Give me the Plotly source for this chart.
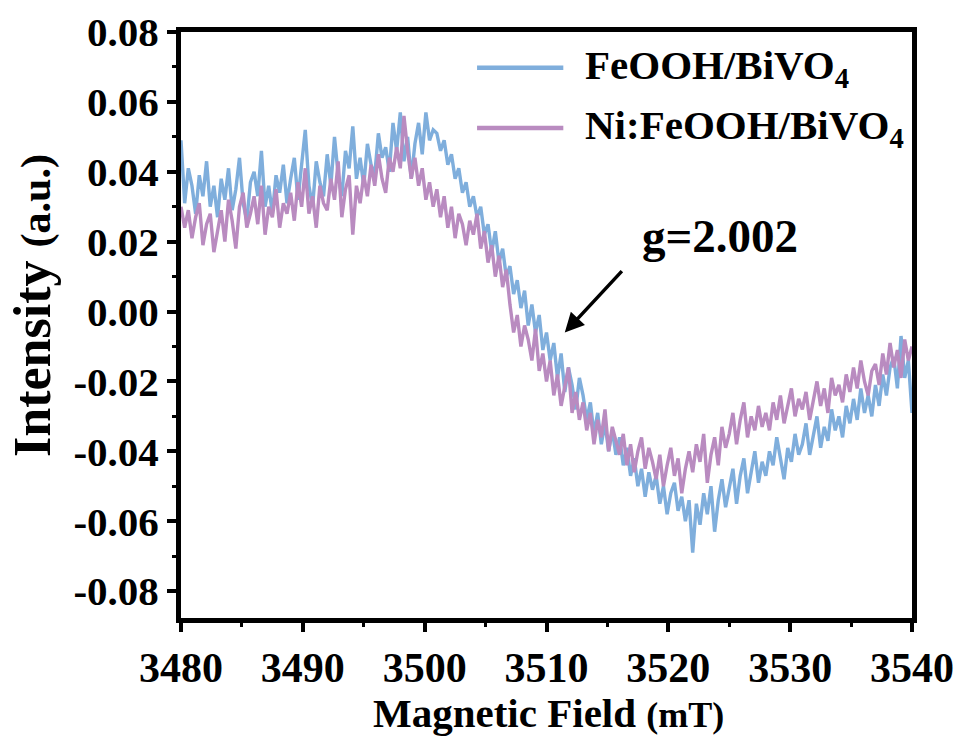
import numpy as np
import plotly.graph_objects as go

# Magnetic field sweep, 3480-3540 mT in 0.3 mT steps (201 samples)
field = np.round(3480 + 0.3 * np.arange(201), 1)

# EPR intensity of FeOOH/BiVO4 (a.u.)
feooh = [
    0.049, 0.031, 0.041, 0.036, 0.028, 0.039, 0.033, 0.043, 0.030, 0.036,
    0.027, 0.038, 0.032, 0.041, 0.029, 0.035, 0.044, 0.031, 0.026, 0.037,
    0.040, 0.033, 0.046, 0.030, 0.036, 0.028, 0.039, 0.034, 0.042, 0.031,
    0.038, 0.044, 0.032, 0.041, 0.052, 0.036, 0.030, 0.043, 0.037, 0.033,
    0.045, 0.036, 0.050, 0.039, 0.033, 0.046, 0.041, 0.053, 0.038, 0.044,
    0.036, 0.048, 0.042, 0.039, 0.051, 0.044, 0.047, 0.040, 0.054, 0.046,
    0.057, 0.043, 0.050, 0.038, 0.048, 0.054, 0.045, 0.057, 0.049, 0.052,
    0.051, 0.046, 0.049, 0.042, 0.045, 0.038, 0.041, 0.034, 0.037, 0.030,
    0.033, 0.027, 0.030, 0.022, 0.025, 0.017, 0.023, 0.014, 0.018, 0.010,
    0.013, 0.005, 0.009, 0.001, 0.006, -0.004, 0.002, -0.006, -0.001, -0.011,
    -0.006, -0.014, -0.009, -0.019, -0.012, -0.023, -0.016, -0.021, -0.028, -0.019,
    -0.024, -0.031, -0.026, -0.035, -0.029, -0.038, -0.032, -0.040, -0.034, -0.041,
    -0.036, -0.044, -0.039, -0.047, -0.042, -0.050, -0.045, -0.053, -0.046, -0.051,
    -0.047, -0.055, -0.050, -0.058, -0.052, -0.049, -0.057, -0.053, -0.060, -0.054,
    -0.069, -0.055, -0.061, -0.052, -0.058, -0.050, -0.063, -0.054, -0.048, -0.056,
    -0.051, -0.045, -0.055, -0.047, -0.042, -0.052, -0.046, -0.040, -0.049, -0.043,
    -0.047, -0.040, -0.044, -0.036, -0.042, -0.048, -0.039, -0.043, -0.035, -0.041,
    -0.038, -0.032, -0.041, -0.035, -0.030, -0.039, -0.033, -0.037, -0.028, -0.034,
    -0.030, -0.036, -0.027, -0.032, -0.025, -0.031, -0.022, -0.029, -0.024, -0.030,
    -0.021, -0.027, -0.018, -0.024, -0.016, -0.013, -0.022, -0.007, -0.019, -0.014,
    -0.029,
]

# EPR intensity of Ni:FeOOH/BiVO4 (a.u.)
ni_feooh = [
    0.030, 0.024, 0.029, 0.021, 0.027, 0.031, 0.019, 0.025, 0.028, 0.017,
    0.023, 0.029, 0.020, 0.032, 0.026, 0.018, 0.030, 0.034, 0.024, 0.028,
    0.033, 0.025, 0.036, 0.022, 0.030, 0.027, 0.035, 0.024, 0.031, 0.028,
    0.034, 0.026, 0.037, 0.030, 0.041, 0.028, 0.033, 0.024, 0.036, 0.031,
    0.029, 0.038, 0.032, 0.043, 0.027, 0.035, 0.039, 0.022, 0.036, 0.031,
    0.039, 0.033, 0.042, 0.036, 0.045, 0.038, 0.034, 0.044, 0.040, 0.047,
    0.041, 0.056, 0.046, 0.038, 0.044, 0.036, 0.041, 0.032, 0.037, 0.030,
    0.035, 0.027, 0.033, 0.024, 0.030, 0.021, 0.028, 0.025, 0.019, 0.026,
    0.022, 0.028, 0.018, 0.023, 0.014, 0.019, 0.010, 0.016, 0.007, 0.012,
    0.002, -0.006, -0.001, -0.010, -0.004, -0.008, -0.014, -0.005, -0.017, -0.012,
    -0.020, -0.014, -0.024, -0.018, -0.027, -0.021, -0.016, -0.029, -0.023, -0.031,
    -0.026, -0.034, -0.029, -0.038, -0.031, -0.036, -0.028, -0.040, -0.033, -0.037,
    -0.041, -0.035, -0.044, -0.038, -0.046, -0.040, -0.036, -0.045, -0.039, -0.043,
    -0.048, -0.041, -0.050, -0.044, -0.039, -0.047, -0.042, -0.052, -0.045, -0.040,
    -0.046, -0.038, -0.043, -0.035, -0.049, -0.041, -0.036, -0.044, -0.033, -0.039,
    -0.035, -0.029, -0.038, -0.031, -0.026, -0.036, -0.030, -0.034, -0.027, -0.033,
    -0.029, -0.034, -0.026, -0.031, -0.024, -0.032, -0.027, -0.022, -0.030, -0.025,
    -0.028, -0.023, -0.031, -0.025, -0.020, -0.027, -0.022, -0.029, -0.019, -0.024,
    -0.021, -0.026, -0.018, -0.023, -0.016, -0.022, -0.014, -0.020, -0.024, -0.017,
    -0.015, -0.021, -0.012, -0.018, -0.009, -0.016, -0.011, -0.019, -0.008, -0.014,
    -0.010,
]

series_names = ["FeOOH/BiVO<sub>4</sub>", "Ni:FeOOH/BiVO<sub>4</sub>"]
series_colors = ["#7FAEDC", "#B98BC0"]

x_ticks = [3480, 3490, 3500, 3510, 3520, 3530, 3540]
y_ticks = [-0.08, -0.06, -0.04, -0.02, 0.00, 0.02, 0.04, 0.06, 0.08]
y_tick_labels = ["-0.08", "-0.06", "-0.04", "-0.02", "0.00", "0.02", "0.04", "0.06", "0.08"]

x_title = "Magnetic Field <span style='font-size:36px'>(mT)</span>"
y_title = "Intensity <span style='font-size:42px'>(a.u.)</span>"

# g-factor marker: arrow head and tail in data units
g_label = "g=2.002"
g_arrow_head = (3511.5, -0.006)
g_arrow_tail = (3516.3, 0.012)
g_label_pos = (3524.2, 0.0215)

SERIF = "Times New Roman, Liberation Serif, serif"

fig = go.Figure()
# Ni:FeOOH drawn on top of FeOOH
for name, yvals, color in [(series_names[0], feooh, series_colors[0]),
                           (series_names[1], ni_feooh, series_colors[1])]:
    fig.add_trace(go.Scatter(
        x=field, y=yvals, mode="lines", name=name,
        line=dict(color=color, width=3.4),
        showlegend=False,
    ))

# Hand-built legend so the line samples can be long
legend_rows = [0.939, 0.836]
for name, color, ypos in zip(series_names, series_colors, legend_rows):
    fig.add_shape(type="line", xref="paper", yref="paper",
                  x0=0.405, x1=0.523, y0=ypos, y1=ypos,
                  line=dict(color=color, width=4.5))
    fig.add_annotation(xref="paper", yref="paper", x=0.55, y=ypos,
                       xanchor="left", yanchor="middle", showarrow=False,
                       text=name,
                       font=dict(family=SERIF, size=41, color="black", weight="bold"))

fig.add_annotation(x=g_arrow_head[0], y=g_arrow_head[1],
                   ax=g_arrow_tail[0], ay=g_arrow_tail[1],
                   xref="x", yref="y", axref="x", ayref="y",
                   text="", showarrow=True, arrowhead=2, arrowsize=1.1,
                   arrowwidth=3.5, arrowcolor="black")
fig.add_annotation(x=g_label_pos[0], y=g_label_pos[1], xref="x", yref="y",
                   text=g_label, showarrow=False,
                   font=dict(family=SERIF, size=47, color="black", weight="bold"))

# Axis titles
fig.add_annotation(xref="paper", yref="paper", x=0.503, y=-0.162,
                   xanchor="center", yanchor="middle", showarrow=False,
                   text=x_title,
                   font=dict(family=SERIF, size=41, color="black", weight="bold"))
fig.add_annotation(xref="paper", yref="paper", x=-0.204, y=0.534,
                   xanchor="center", yanchor="middle", showarrow=False,
                   textangle=-90, text=y_title,
                   font=dict(family=SERIF, size=52, color="black", weight="bold"))

axis_common = dict(
    showgrid=False, zeroline=False, automargin=False,
    showline=True, linecolor="black", linewidth=5, mirror=True,
    ticks="outside", ticklen=9, tickwidth=4, tickcolor="black",
)

fig.update_xaxes(
    range=[3480, 3540], tickmode="array", tickvals=x_ticks,
    tickfont=dict(family=SERIF, size=42, color="black", weight="bold"),
    minor=dict(ticks="outside", ticklen=4, tickwidth=3, tickcolor="black",
               dtick=5, tick0=3480),
    **axis_common,
)
fig.update_yaxes(
    range=[-0.0877, 0.08], tickmode="array", tickvals=y_ticks, ticktext=y_tick_labels,
    tickfont=dict(family=SERIF, size=41, color="black", weight="bold"),
    minor=dict(ticks="outside", ticklen=4, tickwidth=3, tickcolor="black",
               dtick=0.01, tick0=0),
    **axis_common,
)

fig.update_layout(
    width=959, height=740,
    margin=dict(l=181, r=47, t=32, b=122),
    paper_bgcolor="white", plot_bgcolor="white",
)

fig.write_html("out.html")
